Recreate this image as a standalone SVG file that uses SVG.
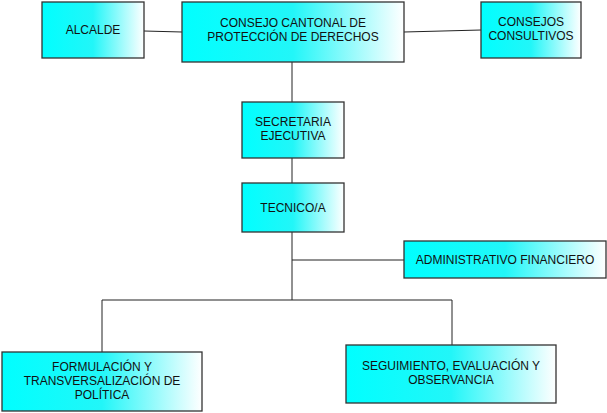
<svg xmlns="http://www.w3.org/2000/svg" width="607" height="413" viewBox="0 0 607 413">
<defs><linearGradient id="g" x1="0" y1="0" x2="1" y2="0"><stop offset="0" stop-color="#00FFFF"/><stop offset="0.5" stop-color="#22F6F8"/><stop offset="1" stop-color="#FFFFFF"/></linearGradient></defs>
<style>rect{fill:url(#g);stroke:#333;stroke-width:1.3}text{font-family:"Liberation Sans",Arial,sans-serif;font-size:12px;fill:#111;text-anchor:middle}.c line{stroke:#222;stroke-width:1}</style>
<g class="c">
<line x1="144" y1="31" x2="182" y2="32"/><line x1="404" y1="32" x2="481" y2="30"/>
<line x1="292" y1="62" x2="292" y2="102"/><line x1="292" y1="158" x2="292" y2="183"/><line x1="292" y1="232" x2="292" y2="300"/>
<line x1="292" y1="260" x2="404" y2="260"/><line x1="102" y1="300" x2="452" y2="300"/>
<line x1="102" y1="300" x2="102" y2="352"/><line x1="452" y1="300" x2="452" y2="345"/>
</g>
<g id="alcalde"><rect x="42" y="2" width="102" height="56"/><text x="93" y="34">ALCALDE</text></g>
<g id="consejo"><rect x="182" y="2" width="222" height="60"/><text x="293" y="27">CONSEJO CANTONAL DE</text><text x="293" y="41">PROTECCIÓN DE DERECHOS</text></g>
<g id="consultivos"><rect x="481" y="2" width="100" height="56"/><text x="531" y="26">CONSEJOS</text><text x="531" y="40">CONSULTIVOS</text></g>
<g id="secretaria"><rect x="242" y="102" width="102" height="56"/><text x="293" y="126">SECRETARIA</text><text x="293" y="140">EJECUTIVA</text></g>
<g id="tecnico"><rect x="242" y="183" width="102" height="49"/><text x="293" y="212">TECNICO/A</text></g>
<g id="admin"><rect x="404" y="241" width="202" height="37"/><text x="505" y="264">ADMINISTRATIVO FINANCIERO</text></g>
<g id="formulacion"><rect x="2" y="352" width="200" height="59"/><text x="102" y="371">FORMULACIÓN Y</text><text x="102" y="385">TRANSVERSALIZACIÓN DE</text><text x="102" y="399">POLÍTICA</text></g>
<g id="seguimiento"><rect x="346" y="345" width="210" height="58"/><text x="451" y="370">SEGUIMIENTO, EVALUACIÓN Y</text><text x="451" y="384">OBSERVANCIA</text></g>
</svg>
